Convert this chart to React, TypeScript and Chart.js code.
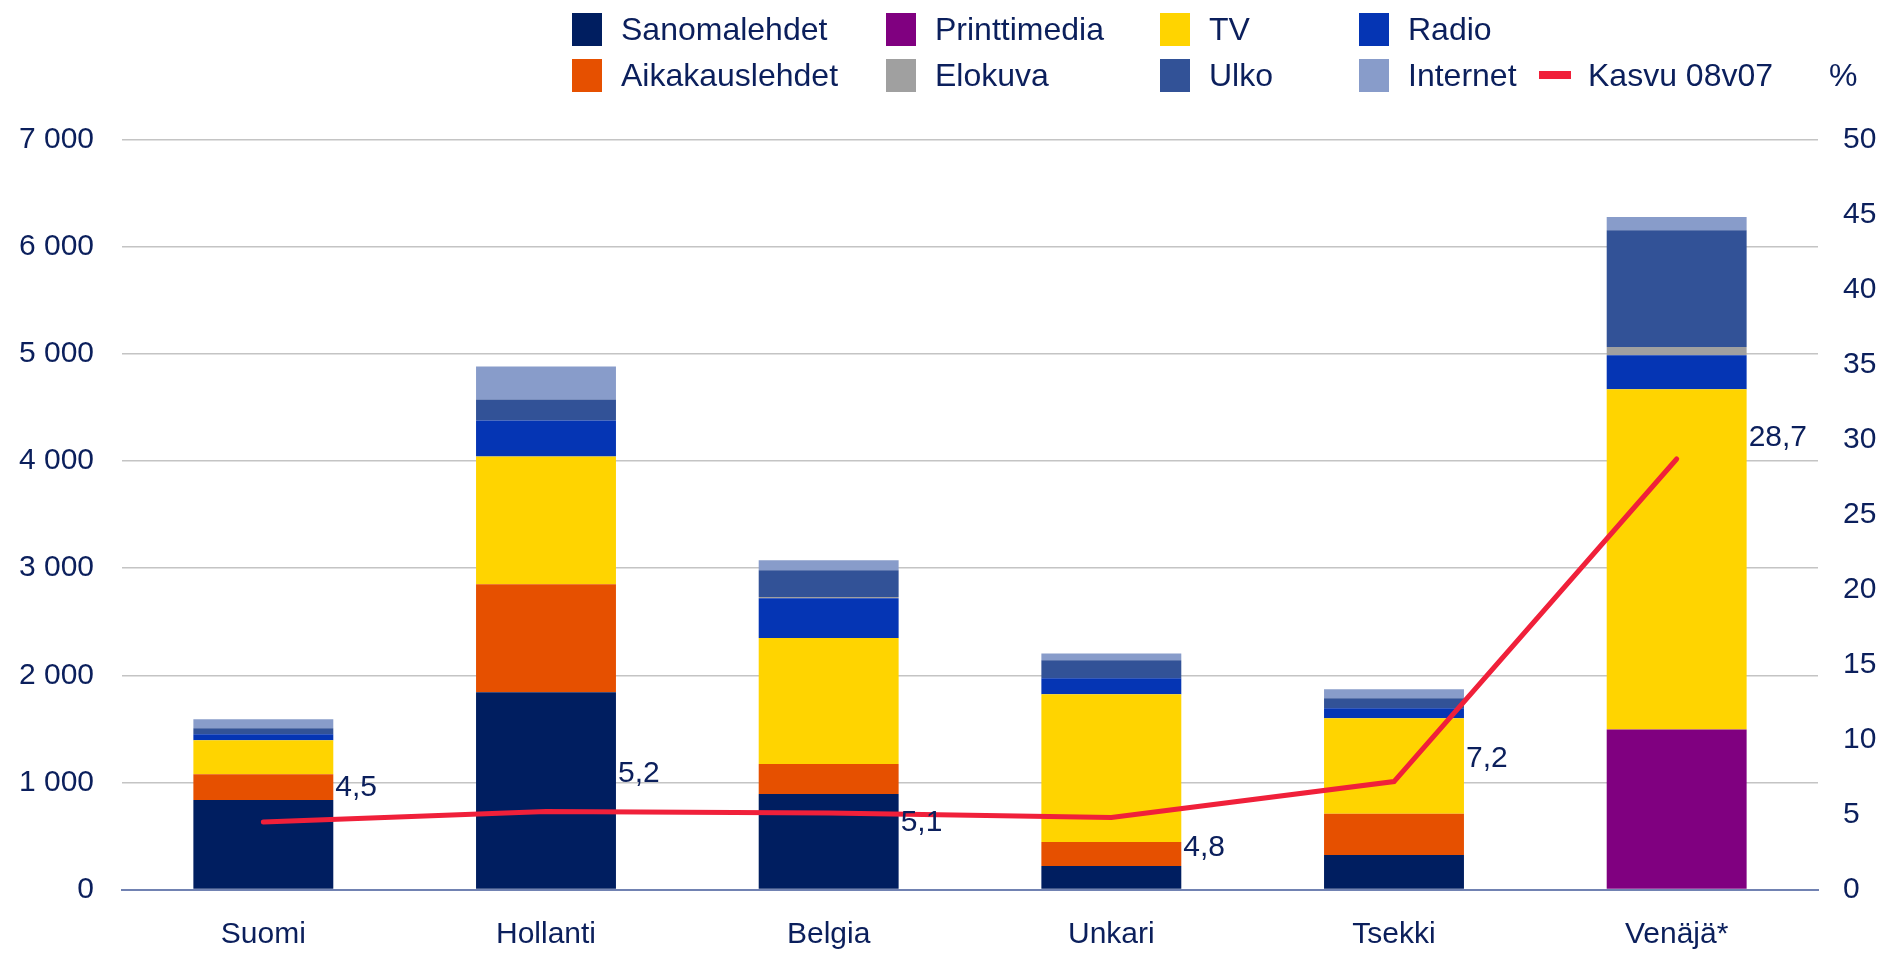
import React, { useEffect, useRef } from "react";
import { Chart, registerables } from "chart.js";

Chart.register(...registerables);

const categories = ["Suomi", "Hollanti", "Belgia", "Unkari", "Tsekki", "Venäjä*"];

const sanomalehdet = [835, 1842, 891, 220, 322, 0];
const printtimedia = [0, 0, 0, 0, 0, 1495];
const aikakauslehdet = [242, 1007, 280, 224, 385, 0];
const tv = [317, 1193, 1177, 1379, 892, 3174];
const radio = [56, 335, 370, 149, 93, 317];
const elokuva = [0, 0, 12, 0, 0, 77];
const ulko = [56, 196, 249, 168, 93, 1090];
const internet = [84, 308, 93, 62, 84, 123];
const kasvu = [4.5, 5.2, 5.1, 4.8, 7.2, 28.7];
const kasvuLabels = ["4,5", "5,2", "5,1", "4,8", "7,2", "28,7"];

const leftTicks = [0, 1000, 2000, 3000, 4000, 5000, 6000, 7000];
const rightTicks = [0, 5, 10, 15, 20, 25, 30, 35, 40, 45, 50];

// label vertical offsets (styling only)
const labelDy = [-34, -38, 10, 30, -23, -21];

const TEXT = "#0b1f5c";
const FONT = "'Liberation Sans', Arial, sans-serif";

const COLORS = {
  sanomalehdet: "#001e60",
  printtimedia: "#800080",
  aikakauslehdet: "#e65000",
  tv: "#ffd400",
  radio: "#0535b4",
  elokuva: "#a0a0a0",
  ulko: "#325297",
  internet: "#889cca",
  kasvu: "#f0203a",
};

const legendItems = [
  { label: "Sanomalehdet", color: COLORS.sanomalehdet, x: 572, row: 0 },
  { label: "Aikakauslehdet", color: COLORS.aikakauslehdet, x: 572, row: 1 },
  { label: "Printtimedia", color: COLORS.printtimedia, x: 886, row: 0 },
  { label: "Elokuva", color: COLORS.elokuva, x: 886, row: 1 },
  { label: "TV", color: COLORS.tv, x: 1160, row: 0 },
  { label: "Ulko", color: COLORS.ulko, x: 1160, row: 1 },
  { label: "Radio", color: COLORS.radio, x: 1359, row: 0 },
  { label: "Internet", color: COLORS.internet, x: 1359, row: 1 },
];
const rowCenters = [29, 75];

const fmt = (v: number) => String(v).replace(/\B(?=(\d{3})+(?!\d))/g, " ");

const lineLabelPlugin = {
  id: "lineLabels",
  afterDatasetsDraw(chart: any) {
    const ctx = chart.ctx;
    const lineIdx = chart.data.datasets.findIndex((d: any) => d.type === "line");
    const meta = chart.getDatasetMeta(lineIdx);
    const barMeta = chart.getDatasetMeta(0);
    ctx.save();
    ctx.font = `30px ${FONT}`;
    ctx.fillStyle = TEXT;
    ctx.textAlign = "left";
    ctx.textBaseline = "middle";
    meta.data.forEach((pt: any, i: number) => {
      const bar = barMeta.data[i] as any;
      const half = bar ? bar.width / 2 : 70;
      ctx.fillText(kasvuLabels[i], pt.x + half + 2, pt.y + labelDy[i]);
    });
    ctx.restore();
  },
};

export default function App() {
  const ref = useRef<HTMLCanvasElement | null>(null);

  useEffect(() => {
    document.body.style.margin = "0";
    document.body.style.overflow = "hidden";
    if (!ref.current) return;
    const mk = (label: string, data: number[], color: string) => ({
      type: "bar" as const,
      label,
      data,
      backgroundColor: color,
      borderWidth: 0,
      yAxisID: "y",
      order: 1,
      barPercentage: 0.495,
      categoryPercentage: 1,
      stack: "s",
    });
    const chart = new Chart(ref.current, {
      type: "bar",
      data: {
        labels: categories,
        datasets: [
          mk("Sanomalehdet", sanomalehdet, COLORS.sanomalehdet),
          mk("Printtimedia", printtimedia, COLORS.printtimedia),
          mk("Aikakauslehdet", aikakauslehdet, COLORS.aikakauslehdet),
          mk("TV", tv, COLORS.tv),
          mk("Radio", radio, COLORS.radio),
          mk("Elokuva", elokuva, COLORS.elokuva),
          mk("Ulko", ulko, COLORS.ulko),
          mk("Internet", internet, COLORS.internet),
          {
            type: "line" as const,
            label: "Kasvu 08v07",
            data: kasvu,
            borderColor: COLORS.kasvu,
            backgroundColor: COLORS.kasvu,
            borderWidth: 5,
            pointRadius: 0,
            tension: 0,
            yAxisID: "y1",
            order: 0,
            borderCapStyle: "round",
            borderJoinStyle: "miter",
          } as any,
        ],
      },
      options: {
        responsive: false,
        animation: false,
        layout: { padding: { top: 139.4, bottom: 0, left: 0, right: 0 } },
        plugins: {
          legend: { display: false },
          tooltip: { enabled: false },
          title: { display: false },
        },
        scales: {
          x: {
            stacked: true,
            offset: true,
            grid: { display: false, drawTicks: false },
            border: { display: true, color: "#7182b2", width: 2 },
            ticks: {
              color: TEXT,
              font: { family: FONT, size: 30 },
              padding: 27,
              maxRotation: 0,
            },
            afterFit: (s: any) => {
              s.height = 64.4;
            },
          },
          y: {
            stacked: true,
            position: "left",
            min: 0,
            max: 7000,
            afterBuildTicks: (s: any) => {
              s.ticks = leftTicks.map((v) => ({ value: v }));
            },
            grid: {
              color: "#c4c4c4",
              lineWidth: 1.5,
              drawTicks: false,
            },
            border: { display: false },
            ticks: {
              color: TEXT,
              font: { family: FONT, size: 30 },
              padding: 28,
              callback: (v: any) => fmt(Number(v)),
            },
            afterFit: (s: any) => {
              s.width = 122;
            },
          },
          y1: {
            position: "right",
            min: 0,
            max: 50,
            afterBuildTicks: (s: any) => {
              s.ticks = rightTicks.map((v) => ({ value: v }));
            },
            grid: { display: false, drawTicks: false },
            border: { display: false },
            ticks: {
              color: TEXT,
              font: { family: FONT, size: 30 },
              padding: 25,
            },
            afterFit: (s: any) => {
              s.width = 81;
            },
          },
        },
      },
      plugins: [lineLabelPlugin],
    });
    return () => chart.destroy();
  }, []);

  const textStyle = (left: number, center: number): React.CSSProperties => ({
    position: "absolute",
    left,
    top: center - 18,
    fontFamily: FONT,
    fontSize: 32,
    lineHeight: "36px",
    color: TEXT,
    whiteSpace: "nowrap",
  });

  return (
    <div style={{ position: "relative", width: 1899, height: 954, background: "#fff", overflow: "hidden" }}>
      <canvas ref={ref} width={1899} height={954} style={{ position: "absolute", left: 0, top: 0 }} />
      {legendItems.map((it) => (
        <React.Fragment key={it.label}>
          <div
            style={{
              position: "absolute",
              left: it.x,
              top: rowCenters[it.row] - 16.5,
              width: 30,
              height: 33,
              background: it.color,
            }}
          />
          <div style={textStyle(it.x + 49, rowCenters[it.row])}>{it.label}</div>
        </React.Fragment>
      ))}
      <div
        style={{
          position: "absolute",
          left: 1539,
          top: rowCenters[1] - 4,
          width: 32,
          height: 8,
          background: COLORS.kasvu,
        }}
      />
      <div style={textStyle(1588, rowCenters[1])}>Kasvu 08v07</div>
      <div style={textStyle(1829, rowCenters[1])}>%</div>
    </div>
  );
}
